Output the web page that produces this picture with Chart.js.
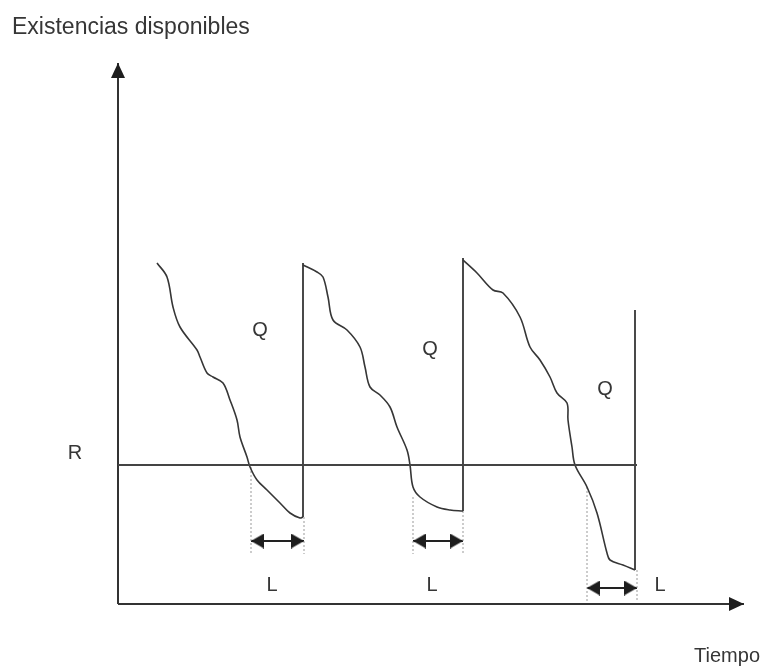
<!DOCTYPE html>
<html>
<head>
<meta charset="utf-8">
<script src="https://cdn.jsdelivr.net/npm/chart.js@4/dist/chart.umd.min.js"></script>
<style>
  html, body { margin: 0; padding: 0; background: #fff; }
  #wrap { width: 773px; height: 672px; }
</style>
</head>
<body>
<div id="wrap"><canvas id="inventario"></canvas></div>
<script>
// inventory level over time, three replenishment cycles (arbitrary units)
var cycle1Time  = [39, 49, 55, 62, 79, 82, 89, 95, 105, 112, 119, 122, 129, 132, 139, 149, 162, 172, 182, 185];
var cycle1Stock = [341, 327, 297, 277, 254, 247, 231, 227, 221, 204, 184, 167, 147, 137, 124, 114, 101, 91, 86, 87];
var cycle2Time  = [185, 199, 205, 210, 215, 229, 242, 247, 252, 262, 272, 279, 289, 292, 295, 302, 319, 332, 345];
var cycle2Stock = [339, 332, 327, 307, 284, 274, 257, 237, 217, 209, 197, 177, 154, 139, 117, 107, 97, 94, 93];
var cycle3Time  = [345, 359, 375, 385, 402, 412, 422, 432, 439, 449, 450, 454, 457, 469, 479, 489, 492, 505, 517];
var cycle3Stock = [344, 331, 314, 311, 287, 257, 244, 227, 211, 201, 184, 157, 139, 117, 91, 51, 44, 39, 34];
var orderTop    = [341, 346, 294];   // level reached by each vertical replenishment line

var reorderPoint = 139;       // R
var leadStart    = [133, 295, 469];
var leadEnd      = [186, 345, 519];
var leadStartTop = [137, 107, 117];
var leadEndTop   = [87, 93, 34];
var leadArrowY   = [63, 63, 16];

var xMax = 626, yMax = 541;

// label placement (data units)
var qLabelPos = [[142, 268], [312, 249], [487, 209]];
var lLabelPos = [[154, 13], [314, 13], [542, 13]];

var ink = '#363636';

function arrowHead(len, wid) {
  // tip sits at the centre of the canvas so the point lands on the tip
  var c = document.createElement('canvas');
  c.width = len * 2; c.height = wid;
  var g = c.getContext('2d');
  g.fillStyle = '#1e1e1e';
  g.beginPath();
  g.moveTo(len, wid / 2);
  g.lineTo(0, 0);
  g.lineTo(0, wid);
  g.closePath();
  g.fill();
  return c;
}
var axisHead = arrowHead(15, 14);
var leadHead = arrowHead(13, 15);

function pts(xs, ys) {
  return xs.map(function(x, i) { return {x: x, y: ys[i]}; });
}

var cycles = [pts(cycle1Time, cycle1Stock), pts(cycle2Time, cycle2Stock), pts(cycle3Time, cycle3Stock)];

var datasets = [
  { data: [{x: 0, y: reorderPoint}, {x: leadEnd[2], y: reorderPoint}], borderColor: '#444', borderWidth: 2, pointRadius: 0 },
  { data: [{x: 0, y: 0}, {x: 0, y: yMax}], borderColor: '#333', borderWidth: 2,
    pointRadius: [0, 5], pointStyle: axisHead, pointRotation: -90 },
  { data: [{x: 0, y: 0}, {x: xMax, y: 0}], borderColor: '#333', borderWidth: 2,
    pointRadius: [0, 5], pointStyle: axisHead, pointRotation: 0 }
];

cycles.forEach(function(c, i) {
  var last = c[c.length - 1];
  datasets.push({ data: c, borderColor: ink, borderWidth: 1.6, pointRadius: 0, tension: 0.35 });
  datasets.push({ data: [last, {x: last.x, y: orderTop[i]}], borderColor: ink, borderWidth: 1.8, pointRadius: 0 });
});

leadStart.forEach(function(s, i) {
  var e = leadEnd[i], ay = leadArrowY[i];
  datasets.push({ data: [{x: s, y: leadStartTop[i]}, {x: s, y: ay - 13}],
    borderColor: '#9a9a9a', borderWidth: 1, borderDash: [2, 2], pointRadius: 0 });
  datasets.push({ data: [{x: e, y: leadEndTop[i]}, {x: e, y: ay - 13}],
    borderColor: '#9a9a9a', borderWidth: 1, borderDash: [2, 2], pointRadius: 0 });
  datasets.push({ data: [{x: s, y: ay}, {x: e, y: ay}], borderColor: '#222', borderWidth: 2,
    pointRadius: 5, pointStyle: leadHead, pointRotation: [180, 0] });
});

var labels = {
  id: 'labels',
  afterDraw: function(chart) {
    var ctx = chart.ctx, sx = chart.scales.x, sy = chart.scales.y;
    function put(txt, x, y, align, size) {
      ctx.font = size + 'px "Liberation Sans", Arial, sans-serif';
      ctx.textAlign = align;
      ctx.textBaseline = 'alphabetic';
      ctx.fillText(txt, sx.getPixelForValue(x), sy.getPixelForValue(y));
    }
    ctx.save();
    ctx.fillStyle = ink;
    put('Existencias disponibles', -106, 570, 'left', 23);
    put('Tiempo', 642, -58, 'right', 20);
    put('R', -43, reorderPoint + 6, 'center', 20);
    qLabelPos.forEach(function(p) { put('Q', p[0], p[1], 'center', 20); });
    lLabelPos.forEach(function(p) { put('L', p[0], p[1], 'center', 20); });
    ctx.restore();
  }
};

new Chart(document.getElementById('inventario'), {
  type: 'scatter',
  data: { datasets: datasets.map(function(d) {
    d.showLine = true; d.clip = false; d.fill = false;
    if (d.tension === undefined) d.tension = 0;
    return d;
  }) },
  options: {
    responsive: true,
    maintainAspectRatio: false,
    animation: false,
    events: [],
    layout: { padding: { left: 118, right: 29, top: 63, bottom: 68 } },
    plugins: { legend: { display: false }, tooltip: { enabled: false } },
    scales: {
      x: { type: 'linear', min: 0, max: xMax, display: false },
      y: { type: 'linear', min: 0, max: yMax, display: false }
    }
  },
  plugins: [labels]
});
</script>
</body>
</html>
